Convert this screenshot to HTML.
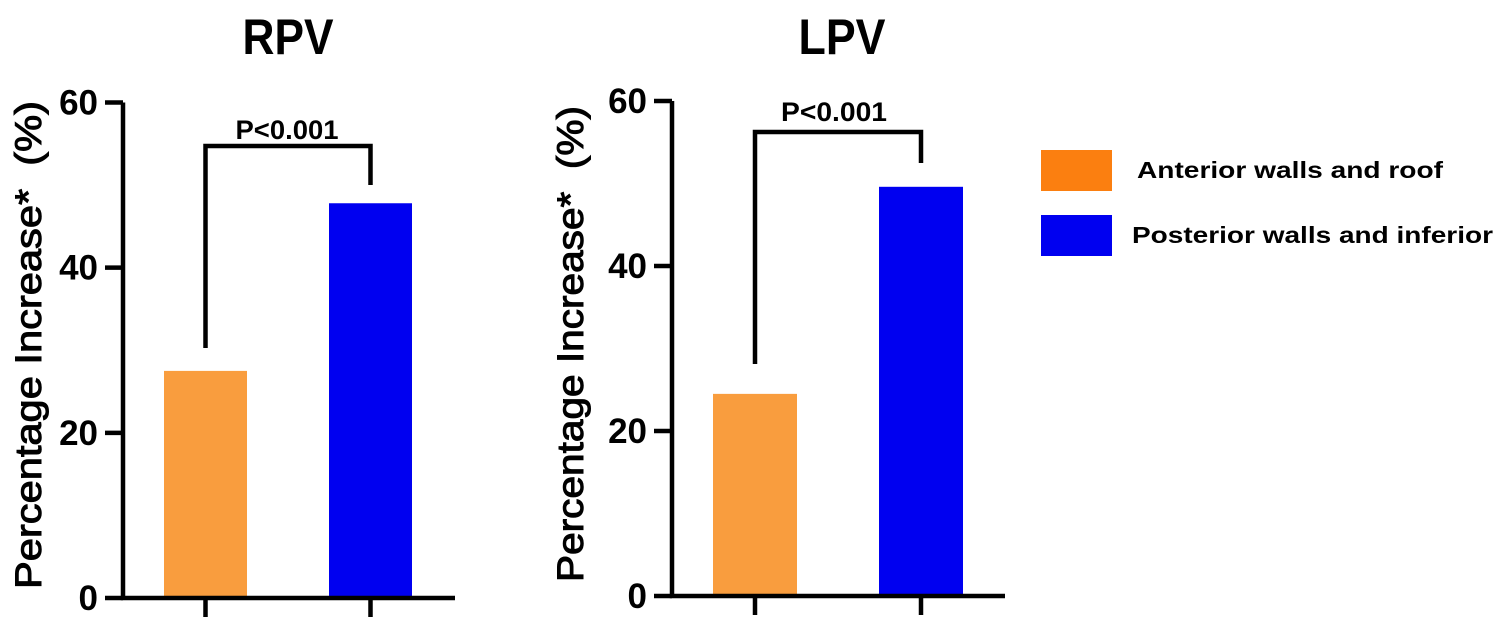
<!DOCTYPE html>
<html><head><meta charset="utf-8"><style>
html,body{margin:0;padding:0;background:#fff;}
svg{display:block;font-family:"Liberation Sans",Arial,sans-serif;font-weight:bold;}
</style></head><body>
<svg id="chart" width="1500" height="623" viewBox="0 0 1500 623" xmlns="http://www.w3.org/2000/svg">
<text x="288" y="54" font-size="50" text-anchor="middle" textLength="91" lengthAdjust="spacingAndGlyphs">RPV</text>
<text x="842" y="54" font-size="50" text-anchor="middle" textLength="87" lengthAdjust="spacingAndGlyphs">LPV</text>
<g>
<rect x="1041" y="150" width="71" height="41" fill="#fb7f10"/>
<text x="1137" y="178" font-size="23" textLength="306" lengthAdjust="spacingAndGlyphs">Anterior walls and roof</text>
<rect x="1041" y="215" width="71" height="41" fill="#0000f0"/>
<text x="1132" y="243" font-size="23" textLength="361" lengthAdjust="spacingAndGlyphs">Posterior walls and inferior</text>
</g>
</svg>
<script>
const categories = ["Anterior walls and roof", "Posterior walls and inferior"];
const rpvValues = [27.5, 47.8];
const lpvValues = [24.5, 49.6];
const tickValues = [0, 20, 40, 60];
const tickLabels = ["0", "20", "40", "60"];
const pLabel = "P<0.001";
const colors = ["#f99d3e", "#0000f0"];
const NS = "http://www.w3.org/2000/svg";
const svg = document.getElementById("chart");
function mk(tag, attrs, parent){const e=document.createElementNS(NS,tag);for(const k in attrs)e.setAttribute(k,attrs[k]);(parent||svg).appendChild(e);return e;}
function drawPanel(cfg){
  const g = mk("g",{});
  
  
  const y = v => cfg.y0 - (v/60)*(cfg.y0-cfg.y60);
  const xc = i => cfg.barX[i] + cfg.barW/2;
  cfg.values.forEach((v,i)=>{
    const r = mk("rect",{x:cfg.barX[i], y:y(v), width:cfg.barW, height:cfg.y0-y(v), fill:colors[i]}, g);
    
    
  });
  const ax = mk("path",{d:`M${cfg.ax} ${y(60)} L${cfg.ax} ${cfg.y0} L${cfg.xEnd} ${cfg.y0}`, stroke:"#000","stroke-width":4.5,fill:"none"}, g);
  
  
  tickValues.forEach((t,i)=>{
    const tl = mk("line",{x1:cfg.ax-18,x2:cfg.ax,y1:y(t),y2:y(t),stroke:"#000","stroke-width":4.5}, g);
    
    
    const tx = mk("text",{x:cfg.ax-25,y:y(t)+12,"font-size":35,"text-anchor":"end"}, g);
    tx.textContent = tickLabels[i];
    
    
  });
  categories.forEach((c,i)=>{
    const xt = mk("line",{x1:xc(i),x2:xc(i),y1:cfg.y0,y2:cfg.y0+19,stroke:"#000","stroke-width":4.5}, g);
    
    
  });
  const yt = mk("text",{x:0,y:0,"font-size":37,"font-weight":"normal","stroke":"#000","stroke-width":1,"text-anchor":"middle",transform:`translate(${cfg.titleX},${cfg.titleY}) rotate(-90)`,textLength:cfg.titleLen,lengthAdjust:"spacingAndGlyphs"}, g);
  yt.textContent = "Percentage Increase*\u00a0\u00a0(%)";
  
  
  const br = mk("path",{d:`M${xc(0)} ${cfg.bL} L${xc(0)} ${cfg.bTop} L${xc(1)} ${cfg.bTop} L${xc(1)} ${cfg.bR}`,stroke:"#000","stroke-width":4.5,fill:"none"}, g);
  
  
  const pt = mk("text",{x:cfg.pX,y:cfg.pY,"font-size":27,"text-anchor":"middle",textLength:cfg.pLen,lengthAdjust:"spacingAndGlyphs"}, g);
  pt.textContent = pLabel;
  
  
}
drawPanel({name:"rpv-chart",values:rpvValues,ax:123,y0:598,y60:102.5,xEnd:455,barX:[164,329],barW:83,
  titleX:41,titleY:345,titleLen:488,bL:348,bTop:146,bR:185,pX:287,pY:139,pLen:103});
drawPanel({name:"lpv-chart",values:lpvValues,ax:672,y0:596,y60:101,xEnd:1005,barX:[713,879],barW:84,
  titleX:583,titleY:344,titleLen:476,bL:364,bTop:132,bR:163,pX:834,pY:121,pLen:106});
</script>
</body></html>
